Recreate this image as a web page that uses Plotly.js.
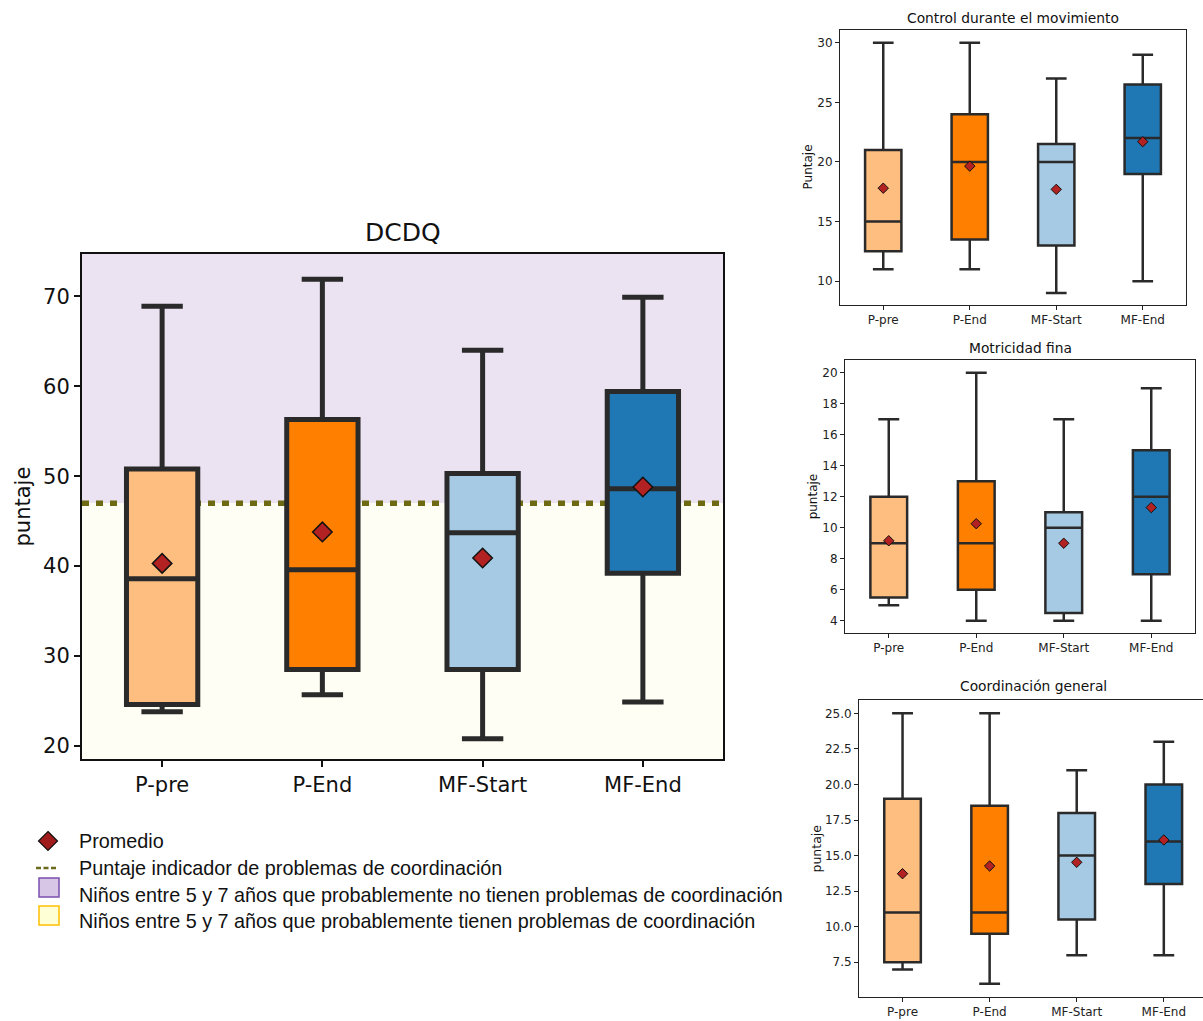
<!DOCTYPE html>
<html><head><meta charset="utf-8">
<script src="https://cdn.plot.ly/plotly-3.0.1.min.js"></script>
<style>html,body{margin:0;padding:0;background:#fff}#chart{width:1203px;height:1021px}</style>
</head><body><div id="chart"></div>
<script>
const W = 1203, H = 1021;

// ---------- data ----------
const categories = ['P-pre', 'P-End', 'MF-Start', 'MF-End'];
const boxColors = ['#febe80', '#ff7f00', '#a6cae3', '#1f77b4'];

const dcdqTitle = 'DCDQ';
const dcdqLow  = [23.8, 25.7, 20.8, 24.9];
const dcdqQ1   = [24.6, 28.5, 28.5, 39.2];
const dcdqMed  = [38.6, 39.6, 43.7, 48.6];
const dcdqQ3   = [50.8, 56.3, 50.3, 59.4];
const dcdqHigh = [68.9, 71.9, 64.0, 69.9];
const dcdqMean = [40.3, 43.8, 40.9, 48.8];
const dcdqThreshold = 47;

const controlTitle = 'Control durante el movimiento';
const controlLow  = [11, 11, 9, 10];
const controlQ1   = [12.5, 13.5, 13, 19];
const controlMed  = [15, 20, 20, 22];
const controlQ3   = [21, 24, 21.5, 26.5];
const controlHigh = [30, 30, 27, 29];
const controlMean = [17.8, 19.65, 17.7, 21.7];

const fineTitle = 'Motricidad fina';
const fineLow  = [5, 4, 4, 4];
const fineQ1   = [5.5, 6, 4.5, 7];
const fineMed  = [9, 9, 10, 12];
const fineQ3   = [12, 13, 11, 15];
const fineHigh = [17, 20, 17, 19];
const fineMean = [9.16, 10.26, 9.0, 11.3];

const coordTitle = 'Coordinación general';
const coordLow  = [7, 6, 8, 8];
const coordQ1   = [7.5, 9.5, 10.5, 13];
const coordMed  = [11, 11, 15, 16];
const coordQ3   = [19, 18.5, 18, 20];
const coordHigh = [25, 25, 21, 23];
const coordMean = [13.73, 14.27, 14.53, 16.1];

const legendLabels = [
  'Promedio',
  'Puntaje indicador de problemas de coordinación',
  'Niños entre 5 y 7 años que probablemente no tienen problemas de coordinación',
  'Niños entre 5 y 7 años que probablemente tienen problemas de coordinación'
];

// ---------- geometry / style ----------
const px = x => x / W;
const py = y => 1 - y / H;
const FONT = 'DejaVu Sans';
const EDGE = '#2a2a2a';

const panels = [
  { ax: '', title: dcdqTitle, ytitle: 'puntaje', low: dcdqLow, q1: dcdqQ1, med: dcdqMed, q3: dcdqQ3, high: dcdqHigh, mean: dcdqMean,
    xd: [82, 723], yd: [254, 759], yr: [18.55, 74.7], dtick: 10, tick0: 20, fmt: '', xmax: 3.5,
    lw: 5, ww: 0.58, bw: 0.445, ms: 15, mlw: 1.5, tfs: 21, axw: 2, tl: 6, axc: '#111',
    titleX: 402.5, titleY: 232.5, titleSize: 25, ylabX: 23, ylabSize: 21 },
  { ax: '2', title: controlTitle, ytitle: 'Puntaje', low: controlLow, q1: controlQ1, med: controlMed, q3: controlQ3, high: controlHigh, mean: controlMean,
    xd: [840, 1186], yd: [30, 305], yr: [8.0, 31.07], dtick: 5, tick0: 10, fmt: '', xmax: 3.5,
    lw: 2.5, ww: 0.57, bw: 0.42, ms: 8, mlw: 1, tfs: 12, axw: 1, tl: 4, axc: '#222',
    titleX: 1013, titleY: 17.7, titleSize: 13.8, ylabX: 807, ylabSize: 12 },
  { ax: '3', title: fineTitle, ytitle: 'puntaje', low: fineLow, q1: fineQ1, med: fineMed, q3: fineQ3, high: fineHigh, mean: fineMean,
    xd: [845, 1195], yd: [360, 632.7], yr: [3.23, 20.82], dtick: 2, tick0: 4, fmt: '', xmax: 3.5,
    lw: 2.5, ww: 0.57, bw: 0.42, ms: 8, mlw: 1, tfs: 12, axw: 1, tl: 4, axc: '#222',
    titleX: 1020, titleY: 348, titleSize: 13.8, ylabX: 813, ylabSize: 12 },
  { ax: '4', title: coordTitle, ytitle: 'puntaje', low: coordLow, q1: coordQ1, med: coordMed, q3: coordQ3, high: coordHigh, mean: coordMean,
    xd: [859, 1203], yd: [700, 997], yr: [5.06, 25.94], dtick: 2.5, tick0: 7.5, fmt: '.1f', xmax: 3.45,
    lw: 2.5, ww: 0.57, bw: 0.42, ms: 8, mlw: 1, tfs: 12, axw: 1, tl: 4, axc: '#222',
    titleX: 1033, titleY: 686, titleSize: 13.8, ylabX: 816, ylabSize: 12.5 }
];

const traces = [];
const layout = {
  width: W, height: H,
  margin: { l: 0, r: 0, t: 0, b: 0 },
  paper_bgcolor: '#ffffff', plot_bgcolor: '#ffffff',
  showlegend: false, boxmode: 'overlay',
  font: { family: FONT, color: '#111' },
  annotations: [], shapes: []
};

panels.forEach(p => {
  const xa = 'x' + p.ax, ya = 'y' + p.ax;
  categories.forEach((c, i) => {
    traces.push({
      type: 'box', orientation: 'v', name: c, x: [c],
      q1: [p.q1[i]], median: [p.med[i]], q3: [p.q3[i]],
      lowerfence: [p.low[i]], upperfence: [p.high[i]],
      fillcolor: boxColors[i], line: { color: EDGE, width: p.lw },
      whiskerwidth: p.ww, width: p.bw, boxpoints: false,
      xaxis: xa, yaxis: ya, hoverinfo: 'skip', showlegend: false
    });
  });
  traces.push({
    type: 'scatter', mode: 'markers', x: categories, y: p.mean, name: 'Promedio',
    marker: { symbol: 'diamond', size: p.ms, color: '#b22222', line: { color: '#111', width: p.mlw } },
    xaxis: xa, yaxis: ya, hoverinfo: 'skip', showlegend: false, cliponaxis: false
  });
  layout['xaxis' + p.ax] = {
    domain: [px(p.xd[0]), px(p.xd[1])], anchor: ya, type: 'category',
    categoryorder: 'array', categoryarray: categories, range: [-0.5, p.xmax],
    showline: true, mirror: true, linecolor: p.axc, linewidth: p.axw,
    ticks: 'outside', ticklen: p.tl, tickwidth: p.axw, tickcolor: p.axc,
    tickfont: { family: FONT, size: p.tfs, color: p.axc },
    showgrid: false, zeroline: false, fixedrange: true
  };
  layout['yaxis' + p.ax] = {
    domain: [py(p.yd[1]), py(p.yd[0])], anchor: xa, range: p.yr,
    tick0: p.tick0, dtick: p.dtick, tickformat: p.fmt,
    showline: true, mirror: true, linecolor: p.axc, linewidth: p.axw,
    ticks: 'outside', ticklen: p.tl, tickwidth: p.axw, tickcolor: p.axc,
    tickfont: { family: FONT, size: p.tfs, color: p.axc },
    showgrid: false, zeroline: false, fixedrange: true
  };
  layout.annotations.push({
    xref: 'paper', yref: 'paper', x: px(p.titleX), y: py(p.titleY),
    xanchor: 'center', yanchor: 'middle', showarrow: false,
    text: p.title, font: { family: FONT, size: p.titleSize, color: '#111' }
  });
  layout.annotations.push({
    xref: 'paper', yref: 'paper', x: px(p.ylabX), y: py((p.yd[0] + p.yd[1]) / 2),
    xanchor: 'center', yanchor: 'middle', showarrow: false, textangle: -90,
    text: p.ytitle, font: { family: FONT, size: p.ylabSize, color: '#111' }
  });
});

// main chart background bands and threshold line
const main = panels[0];
layout.shapes.push(
  { type: 'rect', xref: 'x domain', yref: 'y', x0: 0, x1: 1, y0: dcdqThreshold, y1: main.yr[1],
    fillcolor: '#ebe3f2', line: { width: 0 }, layer: 'below' },
  { type: 'rect', xref: 'x domain', yref: 'y', x0: 0, x1: 1, y0: main.yr[0], y1: dcdqThreshold,
    fillcolor: '#fefef4', line: { width: 0 }, layer: 'below' },
  { type: 'line', xref: 'x domain', yref: 'y', x0: 0, x1: 1, y0: dcdqThreshold, y1: dcdqThreshold,
    line: { color: '#6e6a14', width: 5.5, dash: '7px,7px' }, layer: 'below' }
);

// manual legend
const legRows = [841, 868, 895, 921];
const LEGFONT = { family: 'Liberation Sans', size: 19.8, color: '#111' };
legendLabels.forEach((t, i) => {
  layout.annotations.push({
    xref: 'paper', yref: 'paper', x: px(77), y: py(legRows[i]),
    xanchor: 'left', yanchor: 'middle', showarrow: false, text: t, font: LEGFONT
  });
});
const dc = [48, 841], dh = 9.5;
layout.shapes.push(
  { type: 'path', xref: 'paper', yref: 'paper',
    path: `M ${px(dc[0])} ${py(dc[1] - dh)} L ${px(dc[0] + dh)} ${py(dc[1])} L ${px(dc[0])} ${py(dc[1] + dh)} L ${px(dc[0] - dh)} ${py(dc[1])} Z`,
    fillcolor: '#a01c1c', line: { color: '#111', width: 1.2 } },
  { type: 'line', xref: 'paper', yref: 'paper', x0: px(36), x1: px(56), y0: py(868), y1: py(868),
    line: { color: '#6b6b1e', width: 2.5, dash: '5px,2.5px' } },
  { type: 'rect', xref: 'paper', yref: 'paper', x0: px(39), x1: px(59), y0: py(897), y1: py(878),
    fillcolor: '#d8c6e6', line: { color: '#7b4fae', width: 1.5 } },
  { type: 'rect', xref: 'paper', yref: 'paper', x0: px(39), x1: px(59), y0: py(925), y1: py(906),
    fillcolor: '#ffffd6', line: { color: '#ffc000', width: 1.5 } }
);

Plotly.newPlot('chart', traces, layout, { staticPlot: true, displayModeBar: false });
</script>
</body></html>
